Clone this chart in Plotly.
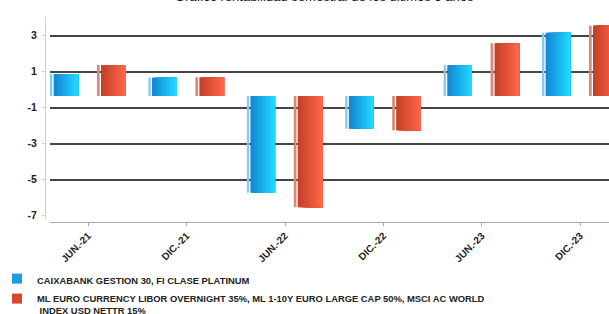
import plotly.graph_objects as go

# ---- data ----
categories = ["JUN.-21", "DIC.-21", "JUN.-22", "DIC.-22", "JUN.-23", "DIC.-23"]
fund_name = "CAIXABANK GESTION 30, FI CLASE PLATINUM"
bench_name = ("ML EURO CURRENCY LIBOR OVERNIGHT 35%, ML 1-10Y EURO LARGE CAP 50%, MSCI AC WORLD"
              "<br> INDEX USD NETTR 15%")
fund_values = [1.22, 1.02, -5.37, -1.82, 1.71, 3.52]
bench_values = [1.72, 1.04, -6.18, -1.91, 2.93, 3.91]
y_ticks = [3, 1, -1, -3, -5, -7]
grid_ticks = [3, 1, -1, -3, -5]
title_text = "Gráfico rentabilidad semestral de los últimos 5 años"

# ---- styling ----
W, H = 609, 314
FONT = "Liberation Sans, Arial, sans-serif"
Y_RANGE = [-7.183, 4.039]
BAR_SHIFT = 0.35          # bars drawn from a baseline set slightly below the grid zero (3D-style wall offset)
Y2_RANGE = [Y_RANGE[0] + BAR_SHIFT, Y_RANGE[1] + BAR_SHIFT]


def lerp(c1, c2, t):
    return "rgb(%d,%d,%d)" % tuple(round(a + (b - a) * t) for a, b in zip(c1, c2))


series = [
    dict(values=fund_values, name=fund_name, legend_color="#1b9de2",
         strip_color="#7fcdf2", strip_off=-0.388, strip_w=0.024,
         body_off=-0.351, body_w=0.250, c_left=(20, 134, 212), c_right=(32, 216, 255)),
    dict(values=bench_values, name=bench_name, legend_color="#d9462b",
         strip_color="#d98a78", strip_off=0.089, strip_w=0.028,
         body_off=0.130, body_w=0.251, c_left=(196, 64, 40), c_right=(255, 102, 72)),
]

fig = go.Figure()

# dummy trace to attach the grid-only axis (drawn first)
fig.add_trace(go.Scatter(x=[None], y=[None], xaxis="x", yaxis="y3", showlegend=False, hoverinfo="skip"))

N_SLICES = 16
for s in series:
    # thin side strip
    fig.add_trace(go.Bar(x=categories, y=s["values"], width=s["strip_w"], offset=s["strip_off"],
                         marker=dict(color=s["strip_color"], line=dict(width=0)),
                         xaxis="x", yaxis="y2", showlegend=False, hoverinfo="skip"))
    # gradient body: each slice runs to the right edge, later slices cover earlier ones
    sw = s["body_w"] / N_SLICES
    for i in range(N_SLICES):
        t = i / (N_SLICES - 1)
        fig.add_trace(go.Bar(x=categories, y=s["values"],
                             width=s["body_w"] - i * sw,
                             offset=s["body_off"] + i * sw,
                             marker=dict(color=lerp(s["c_left"], s["c_right"], t), line=dict(width=0)),
                             xaxis="x", yaxis="y2", showlegend=False,
                             name=s["name"], hovertemplate="%{x}: %{y}<extra></extra>"))

# legend entries
for i, s in enumerate(series):
    fig.add_trace(go.Scatter(x=[None], y=[None], mode="markers", name=s["name"],
                             legendgroup="g%d" % i,
                             marker=dict(symbol="square", size=10, color=s["legend_color"]),
                             xaxis="x", yaxis="y"))

fig.add_annotation(text=title_text, xref="paper", yref="paper", x=0.4947, y=1.056,
                   xanchor="center", yanchor="bottom", showarrow=False,
                   font=dict(family=FONT, size=13, color="#111111"))

fig.update_layout(
    width=W, height=H,
    margin=dict(l=45, r=0, t=17, b=92, pad=0, autoexpand=False),
    paper_bgcolor="white", plot_bgcolor="white",
    barmode="overlay",
    font=dict(family=FONT, color="#222222"),
    xaxis=dict(type="category", categoryarray=categories, domain=[5 / 564, 1],
               range=[-0.3882, 5.2927], anchor="free", position=0, automargin=False,
               showgrid=False, zeroline=False,
               showline=True, linecolor="#a8a8a8", linewidth=1,
               ticks="outside", ticklen=3, tickcolor="#a8a8a8", tickwidth=1,
               tickangle=-45, tickfont=dict(family=FONT, size=10, color="#222222", weight="bold")),
    yaxis=dict(range=Y_RANGE, domain=[3 / 205, 1], anchor="free", position=0, automargin=False,
               tickvals=y_ticks, ticktext=[str(v) for v in y_ticks],
               showgrid=False, zeroline=False,
               showline=True, linecolor="#cfcfcf", linewidth=1,
               ticks="outside", ticklen=3, tickcolor="#cfcfcf",
               ticklabelstandoff=3,
               tickfont=dict(family=FONT, size=10.5, color="#222222", weight="bold")),
    yaxis2=dict(range=Y2_RANGE, domain=[3 / 205, 1], overlaying="y", anchor="x",
                visible=False, showgrid=False, zeroline=False),
    yaxis3=dict(range=Y_RANGE, domain=[3 / 205, 1], overlaying="y", anchor="x",
                tickvals=grid_ticks, showticklabels=False, ticks="",
                showgrid=True, gridcolor="#454545", gridwidth=1.6,
                zeroline=False, showline=False),
    legend=dict(xref="paper", yref="container", x=-48 / 564, y=1 - 266 / 314,
                xanchor="left", yanchor="top", orientation="v",
                valign="top", tracegroupgap=1, itemwidth=30,
                font=dict(family=FONT, size=9.4, color="#222222", weight="bold"),
                bgcolor="rgba(0,0,0,0)"),
    showlegend=True,
)

fig.write_html("out.html", config={"displayModeBar": False},
               post_script="document.body.style.margin='0';")
